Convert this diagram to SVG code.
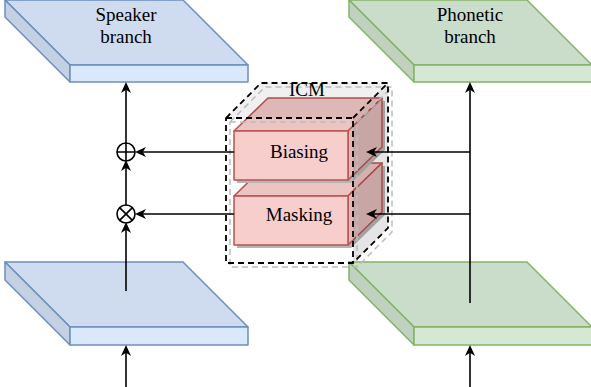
<svg xmlns="http://www.w3.org/2000/svg" width="591" height="387" viewBox="0 0 591 387">
<style>
text{font-family:"Liberation Serif","Times New Roman",serif;font-size:19px;fill:#000;text-anchor:middle}
.bl{stroke:#6c8ebf;stroke-width:1.5;stroke-linejoin:round}
.gr{stroke:#82b366;stroke-width:1.5;stroke-linejoin:round}
.rd{stroke:#b85450;stroke-width:1.5;stroke-linejoin:round}
.c{fill:none;stroke:#000;stroke-width:1.6}
.arr{fill:none;stroke:#000;stroke-width:1.6;marker-end:url(#ah)}
.dk{fill:none;stroke:#000;stroke-width:1.8;stroke-dasharray:6 4}
.dg{fill:none;stroke:#bdbdbd;stroke-width:1.5;stroke-dasharray:6 4}
</style>
<defs>
<marker id="ah" viewBox="0 0 11 11" refX="5" refY="5.5" markerWidth="11" markerHeight="11" markerUnits="userSpaceOnUse" orient="auto">
<path d="M0,0.5 L11,5.5 L0,10.5 L3.2,5.5 z" fill="#000"/>
</marker>
</defs>

<g id="speaker-branch">
<polygon class="bl" points="5,0 183,0 248,65 70,65" fill="#cfdcf0"/>
<polygon class="bl" points="5,0 70,65 70,82 5,17" fill="#c4d1e3"/>
<rect class="bl" x="70" y="65" width="178" height="17" fill="#dae8fc"/>
<text x="126" y="21">Speaker</text>
<text x="126" y="43">branch</text>
</g>

<g id="phonetic-branch">
<polygon class="gr" points="349,0 527,0 592,65 414,65" fill="#cadcca"/>
<polygon class="gr" points="349,0 414,65 414,82 349,17" fill="#c0d1bf"/>
<rect class="gr" x="414" y="65" width="178" height="17" fill="#d5e8d4"/>
<text x="470" y="21">Phonetic</text>
<text x="470" y="43">branch</text>
</g>

<g id="speaker-input">
<polygon class="bl" points="5,262 183,262 248,327 70,327" fill="#cfdcf0"/>
<polygon class="bl" points="5,262 70,327 70,345 5,280" fill="#c4d1e3"/>
<rect class="bl" x="70" y="327" width="178" height="18" fill="#dae8fc"/>
</g>

<g id="phonetic-input">
<polygon class="gr" points="349,262 527,262 592,327 414,327" fill="#cadcca"/>
<polygon class="gr" points="349,262 414,327 414,345 349,280" fill="#c0d1bf"/>
<rect class="gr" x="414" y="327" width="178" height="18" fill="#d5e8d4"/>
</g>

<g id="masking">
<polygon points="237,199 271,166 385,166 385,215 351,248 237,248" fill="#b5b5b5"/>
<polygon class="rd" points="234,196 268,163 382,163 348,196" fill="#ecc4c2"/>
<polygon class="rd" points="348,196 382,163 382,212 348,245" fill="#dfb9b8"/>
<rect class="rd" x="234" y="196" width="114" height="49" fill="#f8cecc"/>
<text x="299" y="221">Masking</text>
</g>

<g id="biasing">
<polygon points="237,134 271,101 385,101 385,150 351,183 237,183" fill="#b5b5b5"/>
<polygon class="rd" points="234,131 268,98 382,98 348,131" fill="#ecc4c2"/>
<polygon class="rd" points="348,131 382,98 382,147 348,180" fill="#dfb9b8"/>
<rect class="rd" x="234" y="131" width="114" height="49" fill="#f8cecc"/>
<text x="299" y="158">Biasing</text>
</g>

<g id="icm">
<polygon points="226,118 261,83 388,83 353,118" fill="#000" fill-opacity="0.06"/>
<polygon points="353,118 388,83 388,228 353,263" fill="#000" fill-opacity="0.1"/>
<path class="dg" d="M230,122 L265,87 L392,87 L392,232 L357,267 L230,267 Z M357,122 L392,87 M230,122 L357,122 L357,267"/>
<path class="dk" d="M226,118 L261,83 L388,83 L388,228 L353,263 L226,263 Z M353,118 L388,83 M226,118 L353,118 L353,263"/>
<text x="307" y="96">ICM</text>
</g>

<g id="plus">
<circle cx="126" cy="152" r="9" fill="#fff" stroke="#000" stroke-width="1.6"/>
<path class="c" d="M117,152 H135 M126,143 V161"/>
</g>

<g id="times">
<circle cx="126" cy="214" r="9" fill="#fff" stroke="#000" stroke-width="1.6"/>
<path class="c" d="M119.6,207.6 L132.4,220.4 M132.4,207.6 L119.6,220.4"/>
</g>

<g id="connectors">
<path class="arr" d="M126,387 V351"/>
<path class="arr" d="M126,291 V228"/>
<path class="arr" d="M126,205 V166"/>
<path class="arr" d="M126,143 V88"/>
<path class="arr" d="M234,152 H141"/>
<path class="arr" d="M234,214 H141"/>
<path class="arr" d="M470,387 V351"/>
<path class="arr" d="M470,303 V88"/>
<path class="arr" d="M470,152 H372"/>
<path class="arr" d="M470,214 H372"/>
</g>
</svg>
